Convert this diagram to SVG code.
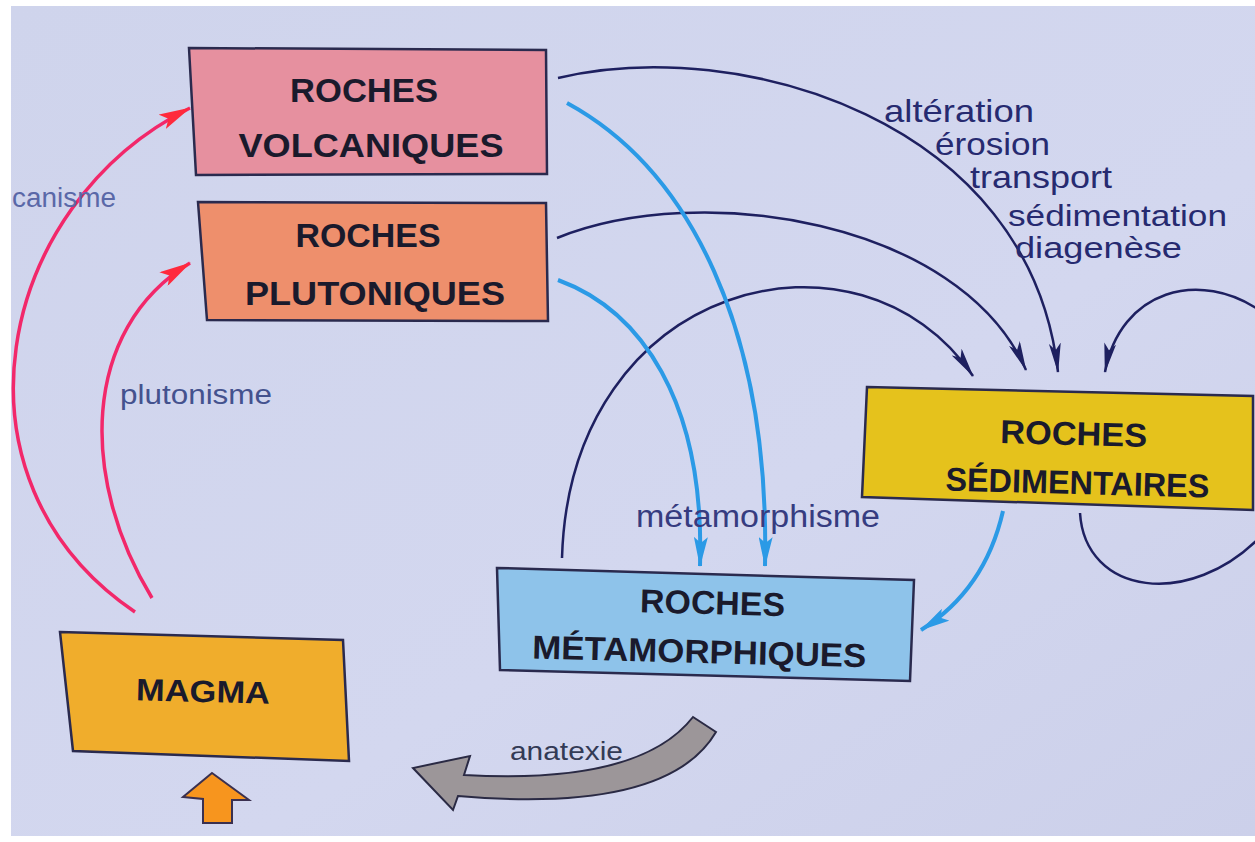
<svg xmlns="http://www.w3.org/2000/svg" width="1255" height="842" viewBox="0 0 1255 842">
<defs>
<style>
.box{stroke:#2a2a4e;stroke-width:2.5;stroke-linejoin:miter}
.bt{font-family:"Liberation Sans",Arial,sans-serif;font-weight:bold;font-size:33px;fill:#1a1a2c;text-anchor:middle}
.lbl{font-family:"Liberation Sans",Arial,sans-serif;font-size:32px;fill:#262a70}
.blk{fill:none;stroke:#1e2060;stroke-width:2.5}
.blu{fill:none;stroke:#2b9ae6;stroke-width:4}
.red{fill:none;stroke:#f2286a;stroke-width:3.5}
</style>
<linearGradient id="bg" x1="0" y1="0" x2="1" y2="1">
<stop offset="0" stop-color="#cfd4ec"/>
<stop offset="0.6" stop-color="#d3d7ef"/>
<stop offset="1" stop-color="#ccd0ea"/>
</linearGradient>
<marker id="ab" viewBox="0 0 30 12" refX="29" refY="6" markerWidth="30" markerHeight="12" markerUnits="userSpaceOnUse" orient="auto">
<path d="M0,0 L30,6 L0,12 L7,6 Z" fill="#1e2060"/>
</marker>
<marker id="au" viewBox="0 0 30 14" refX="29" refY="7" markerWidth="30" markerHeight="14" markerUnits="userSpaceOnUse" orient="auto">
<path d="M0,0 L30,7 L0,14 L6,7 Z" fill="#2b9ae6"/>
</marker>
<marker id="ar" viewBox="0 0 32 16" refX="31" refY="8" markerWidth="32" markerHeight="16" markerUnits="userSpaceOnUse" orient="auto">
<path d="M0,0 L32,8 L0,16 L7,8 Z" fill="#ff2a3c"/>
</marker>
</defs>
<rect x="0" y="0" width="1255" height="842" fill="#ffffff"/>
<rect x="11" y="6" width="1244" height="830" fill="url(#bg)"/>

<g id="connectors">
<path class="blk" d="M558 78 C740 35 1030 120 1058 372" marker-end="url(#ab)"/>
<path class="blk" d="M557 238 C700 180 960 220 1026 370" marker-end="url(#ab)"/>
<path class="blk" d="M562 558 C570 280 860 210 973 376" marker-end="url(#ab)"/>
<path class="blk" d="M1262 312 C1200 268 1120 290 1105 372" marker-end="url(#ab)"/>
<path class="blk" d="M1080 513 C1085 595 1190 610 1262 535"/>
<path class="blu" d="M567 103 C690 170 770 330 765 566" marker-end="url(#au)"/>
<path class="blu" d="M558 280 C640 310 705 400 700 566" marker-end="url(#au)"/>
<path class="blu" d="M1003 511 Q985 590 921 630" marker-end="url(#au)"/>
<path class="red" d="M135 612 C-60 480 -5 205 190 108" marker-end="url(#ar)"/>
<path class="red" d="M152 598 C80 480 80 330 190 263" marker-end="url(#ar)"/>
<path d="M693 717 Q640 785 464 775 L470 756 L413 768 L453 810 L458 796 Q668 814 716 732 Z" fill="#9c9699" stroke="#2a2a44" stroke-width="2"/>
<path d="M212 773 L249 800 L232 800 L232 823 L203 823 L203 799 L183 797 Z" fill="#f7951e" stroke="#3a3050" stroke-width="2"/>
</g>

<g id="volcaniques">
<polygon class="box" points="189,48 546,50 547,174 196,175" fill="#e6909f"/>
<text class="bt" x="364" y="102" textLength="148" lengthAdjust="spacingAndGlyphs">ROCHES</text>
<text class="bt" x="371" y="157" textLength="265" lengthAdjust="spacingAndGlyphs">VOLCANIQUES</text>
</g>
<g id="plutoniques">
<polygon class="box" points="198,202 546,203 548,321 207,320" fill="#ee8f6c"/>
<text class="bt" x="368" y="247" textLength="145" lengthAdjust="spacingAndGlyphs">ROCHES</text>
<text class="bt" x="375" y="305" textLength="260" lengthAdjust="spacingAndGlyphs">PLUTONIQUES</text>
</g>
<g id="sedimentaires">
<polygon class="box" points="867,387 1253,396 1253,510 862,497" fill="#e5c21c"/>
<g transform="rotate(1.5 1075 460)">
<text class="bt" x="1073" y="445" textLength="147" lengthAdjust="spacingAndGlyphs">ROCHES</text>
<text class="bt" x="1078" y="494" textLength="264" lengthAdjust="spacingAndGlyphs">SÉDIMENTAIRES</text>
</g>
</g>
<g id="metamorphiques">
<polygon class="box" points="497,568 914,580 910,681 500,670" fill="#8ec3ea"/>
<g transform="rotate(1.5 705 625)">
<text class="bt" x="712" y="614" textLength="145" lengthAdjust="spacingAndGlyphs">ROCHES</text>
<text class="bt" x="700" y="663" textLength="334" lengthAdjust="spacingAndGlyphs">MÉTAMORPHIQUES</text>
</g>
</g>
<g id="magma">
<polygon class="box" points="60,632 343,640 349,761 73,751" fill="#f0ad2c"/>
<text class="bt" x="203" y="702" textLength="134" lengthAdjust="spacingAndGlyphs" style="font-size:31px" transform="rotate(1.5 203 693)">MAGMA</text>
</g>

<g id="labels">
<text class="lbl" x="884" y="122" textLength="150" lengthAdjust="spacingAndGlyphs">altération</text>
<text class="lbl" x="935" y="155" textLength="115" lengthAdjust="spacingAndGlyphs">érosion</text>
<text class="lbl" x="970" y="188" textLength="142" lengthAdjust="spacingAndGlyphs">transport</text>
<text class="lbl" x="1008" y="226" textLength="219" lengthAdjust="spacingAndGlyphs" style="font-size:30px">sédimentation</text>
<text class="lbl" x="1015" y="258" textLength="167" lengthAdjust="spacingAndGlyphs" style="font-size:30px">diagenèse</text>
<text class="lbl" x="636" y="527" textLength="244" lengthAdjust="spacingAndGlyphs" style="fill:#363c80;font-size:31px">métamorphisme</text>
<text class="lbl" x="120" y="404" textLength="152" lengthAdjust="spacingAndGlyphs" style="fill:#44528e;font-size:27px">plutonisme</text>
<text class="lbl" x="12" y="207" textLength="104" lengthAdjust="spacingAndGlyphs" style="fill:#5a68a8;font-size:27px">canisme</text>
<text class="lbl" x="510" y="760" textLength="113" lengthAdjust="spacingAndGlyphs" style="fill:#333a55;font-size:26px">anatexie</text>
</g>
</svg>
